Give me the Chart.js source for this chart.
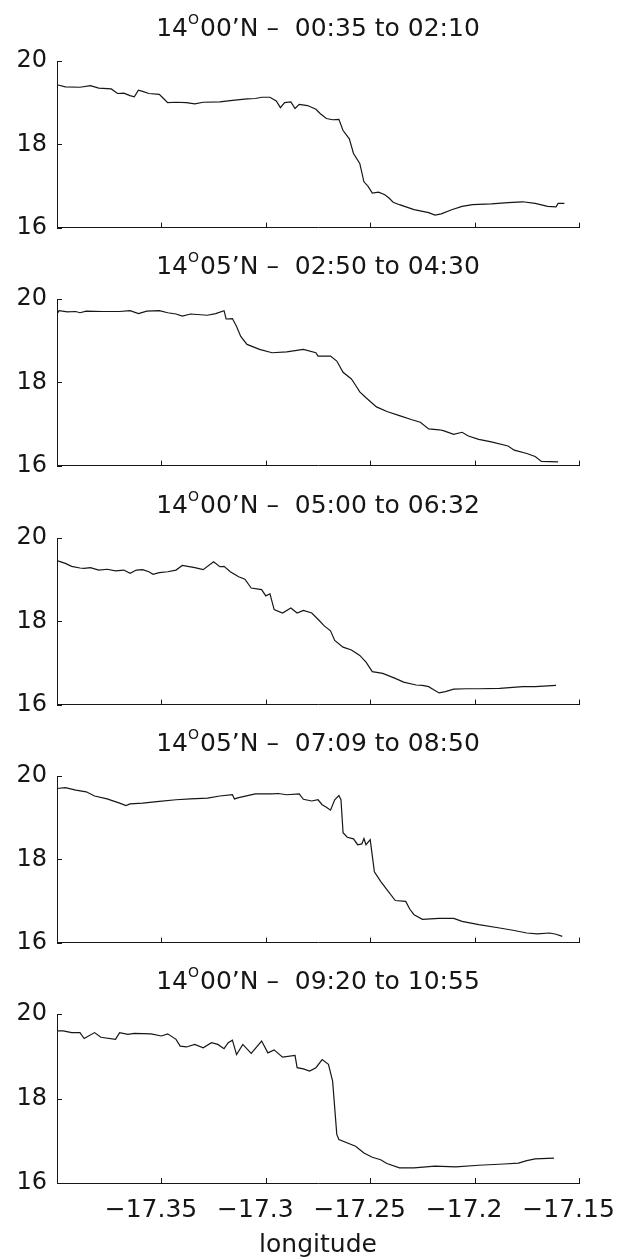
<!DOCTYPE html>
<html>
<head>
<meta charset="utf-8">
<script src="https://cdn.jsdelivr.net/npm/chart.js@4.4.0/dist/chart.umd.min.js"></script>
<style>
html, body { margin: 0; padding: 0; background: #fff; overflow: hidden; }
#wrap { position: relative; width: 626px; height: 1258px; }
#wrap canvas { position: absolute; left: 0; }
</style>
</head>
<body>
<div id="wrap"></div>
<script>
// Panel titles: degrees, superscript mark, rest of the line
const titleDeg = '14';
const titleSup = 'O';
const titleRest = [
    '00\u2019N \u2013  00:35 to 02:10',
    '05\u2019N \u2013  02:50 to 04:30',
    '00\u2019N \u2013  05:00 to 06:32',
    '05\u2019N \u2013  07:09 to 08:50',
    '00\u2019N \u2013  09:20 to 10:55'
];
const xTicks = [-17.35, -17.3, -17.25, -17.2, -17.15];
const yTicks = [16, 18, 20];
const xLabel = 'longitude';

// Transect 1
const lon1 = [-17.400,-17.396,-17.389,-17.384,-17.380,-17.374,-17.371,-17.368,-17.365,-17.363,-17.361,-17.359,-17.356,-17.351,-17.349,-17.347,-17.343,-17.338,-17.334,-17.330,-17.322,-17.317,-17.309,-17.305,-17.302,-17.298,-17.295,-17.293,-17.291,-17.288,-17.286,-17.284,-17.280,-17.276,-17.274,-17.271,-17.268,-17.265,-17.263,-17.260,-17.258,-17.255,-17.253,-17.251,-17.249,-17.246,-17.243,-17.241,-17.239,-17.236,-17.229,-17.222,-17.219,-17.216,-17.211,-17.206,-17.201,-17.192,-17.184,-17.177,-17.171,-17.165,-17.161,-17.160,-17.157];
const temp1 = [19.43,19.38,19.37,19.41,19.35,19.33,19.22,19.23,19.17,19.14,19.30,19.27,19.22,19.20,19.10,19.00,19.01,19.00,18.97,19.01,19.02,19.05,19.09,19.10,19.13,19.13,19.04,18.88,19.00,19.02,18.86,18.96,18.93,18.84,18.74,18.62,18.59,18.60,18.33,18.13,17.78,17.54,17.10,16.99,16.83,16.85,16.79,16.71,16.61,16.55,16.43,16.36,16.30,16.33,16.43,16.51,16.55,16.57,16.60,16.62,16.58,16.51,16.50,16.58,16.58];

// Transect 2
const lon2 = [-17.400,-17.399,-17.395,-17.391,-17.389,-17.386,-17.378,-17.370,-17.365,-17.361,-17.357,-17.351,-17.347,-17.343,-17.340,-17.336,-17.328,-17.324,-17.320,-17.319,-17.316,-17.314,-17.312,-17.309,-17.303,-17.297,-17.290,-17.282,-17.276,-17.275,-17.269,-17.266,-17.263,-17.259,-17.257,-17.255,-17.252,-17.247,-17.242,-17.236,-17.230,-17.226,-17.222,-17.217,-17.215,-17.210,-17.206,-17.203,-17.198,-17.192,-17.184,-17.181,-17.175,-17.171,-17.168,-17.160];
const temp2 = [19.64,19.72,19.69,19.70,19.67,19.71,19.70,19.70,19.72,19.65,19.71,19.72,19.67,19.64,19.59,19.64,19.61,19.65,19.72,19.52,19.53,19.34,19.10,18.91,18.79,18.71,18.73,18.79,18.71,18.63,18.63,18.51,18.24,18.08,17.93,17.77,17.63,17.41,17.30,17.20,17.10,17.04,16.88,16.86,16.84,16.75,16.80,16.71,16.63,16.57,16.47,16.37,16.29,16.22,16.10,16.09];

// Transect 3
const lon3 = [-17.400,-17.396,-17.393,-17.389,-17.387,-17.384,-17.380,-17.376,-17.372,-17.368,-17.365,-17.362,-17.359,-17.356,-17.354,-17.351,-17.347,-17.343,-17.340,-17.334,-17.330,-17.325,-17.322,-17.320,-17.317,-17.313,-17.310,-17.307,-17.302,-17.300,-17.298,-17.296,-17.292,-17.288,-17.285,-17.282,-17.278,-17.275,-17.272,-17.269,-17.267,-17.263,-17.259,-17.255,-17.252,-17.249,-17.244,-17.238,-17.234,-17.228,-17.225,-17.222,-17.220,-17.217,-17.214,-17.210,-17.204,-17.198,-17.188,-17.177,-17.171,-17.161];
const temp3 = [19.46,19.39,19.32,19.28,19.27,19.29,19.23,19.25,19.21,19.23,19.15,19.23,19.24,19.19,19.13,19.17,19.19,19.23,19.34,19.29,19.24,19.43,19.31,19.32,19.19,19.07,19.01,18.80,18.76,18.61,18.66,18.28,18.20,18.32,18.20,18.26,18.20,18.05,17.89,17.77,17.54,17.38,17.31,17.18,17.02,16.79,16.75,16.63,16.54,16.47,16.46,16.43,16.37,16.28,16.31,16.37,16.38,16.38,16.39,16.43,16.43,16.46];

// Transect 4
const lon4 = [-17.400,-17.396,-17.391,-17.386,-17.382,-17.376,-17.370,-17.367,-17.365,-17.359,-17.351,-17.343,-17.336,-17.328,-17.322,-17.316,-17.315,-17.313,-17.305,-17.297,-17.294,-17.290,-17.284,-17.282,-17.278,-17.275,-17.273,-17.271,-17.269,-17.267,-17.265,-17.264,-17.263,-17.261,-17.258,-17.256,-17.254,-17.253,-17.252,-17.250,-17.249,-17.248,-17.245,-17.242,-17.238,-17.233,-17.231,-17.229,-17.225,-17.217,-17.210,-17.206,-17.198,-17.188,-17.181,-17.175,-17.170,-17.164,-17.161,-17.158];
const temp4 = [19.70,19.72,19.66,19.62,19.52,19.45,19.35,19.29,19.33,19.35,19.39,19.43,19.45,19.47,19.52,19.55,19.45,19.48,19.57,19.57,19.58,19.55,19.57,19.44,19.40,19.43,19.31,19.25,19.18,19.43,19.53,19.43,18.64,18.53,18.49,18.35,18.37,18.50,18.35,18.47,18.09,17.70,17.47,17.27,17.01,16.99,16.80,16.67,16.56,16.58,16.58,16.51,16.43,16.35,16.29,16.23,16.21,16.23,16.20,16.15];

// Transect 5
const lon5 = [-17.400,-17.397,-17.393,-17.389,-17.387,-17.382,-17.379,-17.372,-17.370,-17.366,-17.363,-17.355,-17.350,-17.347,-17.343,-17.341,-17.338,-17.334,-17.330,-17.326,-17.323,-17.320,-17.318,-17.316,-17.314,-17.311,-17.307,-17.302,-17.299,-17.296,-17.292,-17.286,-17.285,-17.282,-17.279,-17.276,-17.273,-17.270,-17.268,-17.266,-17.265,-17.257,-17.253,-17.249,-17.245,-17.242,-17.236,-17.229,-17.219,-17.209,-17.198,-17.186,-17.179,-17.175,-17.171,-17.162];
const temp5 = [19.60,19.60,19.56,19.56,19.42,19.56,19.45,19.40,19.56,19.52,19.54,19.53,19.48,19.53,19.40,19.24,19.22,19.28,19.20,19.32,19.28,19.18,19.32,19.38,19.04,19.28,19.07,19.36,19.08,19.15,18.98,19.02,18.73,18.70,18.65,18.73,18.92,18.81,18.41,17.15,17.03,16.87,16.71,16.61,16.55,16.46,16.36,16.36,16.40,16.38,16.42,16.45,16.47,16.53,16.57,16.59];

const lons = [lon1, lon2, lon3, lon4, lon5];
const temps = [temp1, temp2, temp3, temp4, temp5];

const FONT = "'DejaVu Sans', sans-serif";
const inkColor = '#161616';

// MATLAB style tick marks pointing into the axes
const inwardTicks = {
    id: 'inwardTicks',
    afterDraw(chart) {
        const ctx = chart.ctx;
        const a = chart.chartArea;
        const xs = chart.scales.x, ys = chart.scales.y;
        ctx.save();
        ctx.strokeStyle = inkColor;
        ctx.lineWidth = 1;
        ctx.beginPath();
        xs.ticks.forEach(t => {
            const px = Math.round(xs.getPixelForValue(t.value)) + 0.5;
            ctx.moveTo(px, a.bottom);
            ctx.lineTo(px, a.bottom - 5);
        });
        ys.ticks.forEach(t => {
            const py = Math.round(ys.getPixelForValue(t.value)) + 0.5;
            ctx.moveTo(a.left, py);
            ctx.lineTo(a.left + 5, py);
        });
        ctx.stroke();
        ctx.restore();
    }
};

// Title centred over the axes, with a raised small "O" after the degrees
const panelTitle = {
    id: 'panelTitle',
    afterDraw(chart, args, opts) {
        const ctx = chart.ctx;
        const a = chart.chartArea;
        const big = `25px ${FONT}`, small = `14px ${FONT}`;
        const base = a.top - 25;
        ctx.save();
        ctx.fillStyle = inkColor;
        ctx.textAlign = 'left';
        ctx.textBaseline = 'alphabetic';
        ctx.font = big;
        const w1 = ctx.measureText(titleDeg).width;
        const w3 = ctx.measureText(opts.rest).width;
        ctx.font = small;
        const w2 = ctx.measureText(titleSup).width + 1;
        let x = (a.left + a.right) / 2 - (w1 + w2 + w3) / 2;
        ctx.font = big;
        ctx.fillText(titleDeg, x, base);
        x += w1;
        ctx.font = small;
        ctx.fillText(titleSup, x, base - 12.5);
        x += w2;
        ctx.font = big;
        ctx.fillText(opts.rest, x, base);
        ctx.restore();
    }
};

// MATLAB centres the digits on the tick and lets the minus hang left
function fmtLon(v) {
    if (Math.abs(v + 17.4) < 1e-6) return '';
    return '\u2212' + Math.abs(parseFloat(v.toFixed(2))).toString() + '\u2007\u2009';
}

const wrap = document.getElementById('wrap');
const panelTops = [0, 238, 477, 715, 953];

titleRest.forEach((rest, i) => {
    const last = i === titleRest.length - 1;
    const canvas = document.createElement('canvas');
    canvas.width = 626;
    canvas.height = last ? 305 : 252;
    canvas.style.top = panelTops[i] + 'px';
    wrap.appendChild(canvas);

    const points = lons[i].map((lon, k) => ({ x: lon, y: temps[i][k] }));

    new Chart(canvas.getContext('2d'), {
        type: 'line',
        data: {
            datasets: [{
                data: points,
                borderColor: inkColor,
                borderWidth: 1.2,
                pointRadius: 0,
                tension: 0,
                fill: false
            }]
        },
        options: {
            responsive: false,
            animation: false,
            events: [],
            layout: { padding: { left: 0, right: 47, top: 61, bottom: 0 } },
            plugins: {
                legend: { display: false },
                tooltip: { enabled: false },
                title: { display: false },
                panelTitle: { rest: rest }
            },
            scales: {
                x: {
                    type: 'linear',
                    min: -17.4,
                    max: -17.15,
                    afterFit: s => {
                        s.height = last ? 75 : 22;
                        s.paddingLeft = 0;
                        s.paddingRight = 0;
                    },
                    afterBuildTicks: s => { s.ticks = xTicks.map(v => ({ value: v })); },
                    grid: { display: false, drawTicks: false },
                    border: { display: true, color: inkColor, width: 1 },
                    ticks: {
                        display: last,
                        autoSkip: false,
                        maxRotation: 0,
                        padding: 12,
                        color: inkColor,
                        font: { family: FONT, size: 25 },
                        callback: v => fmtLon(v)
                    },
                    title: {
                        display: last,
                        text: xLabel,
                        color: inkColor,
                        font: { family: FONT, size: 25, lineHeight: 1 },
                        padding: { top: 0, bottom: 0 }
                    }
                },
                y: {
                    min: 16,
                    max: 20,
                    afterFit: s => { s.width = 57; },
                    afterBuildTicks: s => { s.ticks = yTicks.map(v => ({ value: v })); },
                    grid: { display: false, drawTicks: false },
                    border: { display: true, color: inkColor, width: 1 },
                    ticks: {
                        padding: 10,
                        color: inkColor,
                        font: { family: FONT, size: 24 }
                    }
                }
            }
        },
        plugins: [inwardTicks, panelTitle]
    });
});
</script>
</body>
</html>
